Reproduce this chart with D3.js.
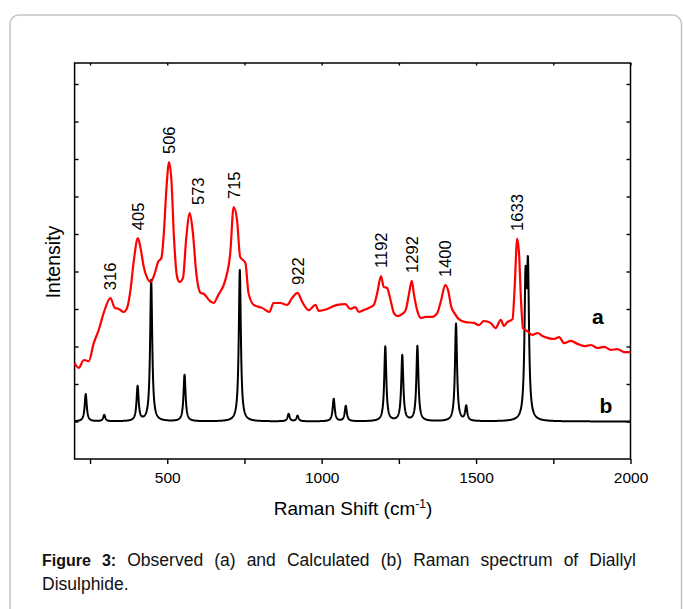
<!DOCTYPE html>
<html>
<head>
<meta charset="utf-8">
<script src="https://cdn.jsdelivr.net/npm/d3@7"></script>
<style>
  body { margin: 0; background: #fff; }
  svg { display: block; }
  text { font-family: "Liberation Sans", Arial, Helvetica, sans-serif; }
</style>
</head>
<body>
<svg id="fig" width="683" height="609"></svg>
<script>
// Observed Raman spectrum (a): shift in cm-1 and intensity (arbitrary units)
const observedShift = [
  200, 213, 230, 246, 262, 278, 294, 316, 330, 343, 359, 370, 381, 392, 405, 413,
  424, 435, 446, 460, 470, 481, 489, 497, 506, 514, 521, 532, 540, 551, 561, 573,
  583, 594, 608, 619, 635, 650, 665, 688, 704, 715, 726, 736, 753, 763, 780, 807,
  831, 844, 866, 888, 904, 922, 937, 958, 980, 990, 1018, 1050, 1077, 1093, 1109, 1120,
  1136, 1158, 1169, 1180, 1192, 1201, 1212, 1223, 1234, 1245, 1261, 1272, 1282, 1292, 1298, 1309,
  1322, 1336, 1358, 1374, 1387, 1400, 1409, 1420, 1430, 1444, 1466, 1493, 1509, 1525, 1547, 1563,
  1580, 1590, 1601, 1618, 1625, 1633, 1639, 1645, 1652, 1666, 1682, 1699, 1715, 1731, 1753, 1769,
  1785, 1807, 1828, 1850, 1872, 1893, 1915, 1936, 1958, 1980, 2000
];
const observedIntensity = [
  2.56, 2.43, 2.64, 2.61, 3.09, 3.44, 3.89, 4.29, 4.03, 4.00, 3.92, 4.03, 4.51, 5.31, 5.89, 5.65,
  5.12, 4.83, 4.72, 4.96, 5.25, 5.36, 6.03, 7.17, 7.92, 7.36, 6.03, 4.85, 4.72, 4.83, 5.84, 6.56,
  6.03, 4.96, 4.43, 4.40, 4.24, 4.16, 4.37, 4.77, 5.49, 6.72, 6.37, 5.39, 5.23, 4.43, 4.11, 4.03,
  3.92, 4.16, 4.16, 4.11, 4.29, 4.43, 4.19, 3.97, 4.11, 3.95, 4.00, 4.11, 4.13, 4.00, 4.05, 3.92,
  3.97, 4.05, 4.11, 4.43, 4.88, 4.59, 4.56, 4.24, 3.89, 3.81, 3.87, 3.97, 4.37, 4.75, 4.43, 3.97,
  3.76, 3.79, 3.79, 3.89, 4.24, 4.64, 4.51, 4.05, 3.89, 3.73, 3.65, 3.63, 3.57, 3.68, 3.63, 3.49,
  3.71, 3.55, 3.65, 3.73, 4.59, 5.87, 5.49, 4.32, 3.49, 3.41, 3.31, 3.36, 3.28, 3.23, 3.20, 3.25,
  3.09, 3.15, 3.07, 3.01, 3.04, 2.96, 2.99, 2.91, 2.93, 2.85, 2.85
];

// Calculated spectrum (b): band positions (cm-1) and heights above its baseline
const calcBandShift  = [236, 296, 404, 448, 556, 735, 893, 922, 1039, 1078, 1206, 1261, 1310, 1435, 1468, 1660, 1668];
const calcBandHeight = [0.73, 0.17, 0.92, 3.77, 1.24, 4.04, 0.20, 0.15, 0.60, 0.41, 1.99, 1.75, 2.00, 2.60, 0.39, 3.38, 3.72];
const calcBaseline = 1.0;
const calcHalfWidth = 4;   // Lorentzian half width at half maximum, cm-1

// Bands annotated on the observed spectrum
const peakLabels = [316, 405, 506, 573, 715, 922, 1192, 1292, 1400, 1633];

// Axis ticks
const xTicks = [250, 500, 750, 1000, 1250, 1500, 1750, 2000];
const xTickLabels = [500, 1000, 1500, 2000];
const yTicks = [1, 2, 3, 4, 5, 6, 7, 8, 9, 10];

const svg = d3.select("#fig");

// Page frame
svg.append("rect")
  .attr("x", 10).attr("y", 15).attr("width", 671.5).attr("height", 640)
  .attr("rx", 9).attr("ry", 9)
  .attr("fill", "none").attr("stroke", "#c4c4c4").attr("stroke-width", 1.5);

const x = d3.scaleLinear().domain([200, 2000]).range([74.6, 630.5]);
const y = d3.scaleLinear().domain([0, 10.56]).range([459, 63]);

// Axes
const gx = svg.append("g").attr("transform", `translate(0,${y(0)})`)
  .call(d3.axisBottom(x).tickValues(xTicks).tickSize(5).tickSizeOuter(0)
    .tickFormat(d => xTickLabels.includes(d) ? d : ""));
gx.selectAll("text").attr("font-size", 15.5).attr("fill", "#000").attr("dy", "1.0em")
  .attr("font-family", "Liberation Sans, Arial, sans-serif");

const gt = svg.append("g").attr("transform", `translate(0,${y.range()[1]})`)
  .call(d3.axisTop(x).tickValues(xTicks).tickSize(-2.5).tickSizeOuter(0).tickFormat(""));

const gl = svg.append("g").attr("transform", `translate(${x.range()[0]},0)`)
  .call(d3.axisLeft(y).tickValues(yTicks).tickSize(-4).tickSizeOuter(0).tickFormat(""));
const gr = svg.append("g").attr("transform", `translate(${x.range()[1]},0)`)
  .call(d3.axisRight(y).tickValues(yTicks).tickSize(-4).tickSizeOuter(0).tickFormat(""));

[gx, gt, gl, gr].forEach(g => {
  g.select(".domain").remove();
  g.selectAll(".tick line").attr("stroke", "#000").attr("stroke-width", 1.4);
});

// Plot frame
svg.append("rect")
  .attr("x", x.range()[0]).attr("y", y.range()[1])
  .attr("width", x.range()[1] - x.range()[0]).attr("height", y.range()[0] - y.range()[1])
  .attr("fill", "none").attr("stroke", "#000").attr("stroke-width", 1.5);

// Calculated spectrum: Lorentzian bands on a flat baseline
const calcShift = d3.range(200, 2000.5, 0.5);
const calcPoints = calcShift.map(s => {
  let v = calcBaseline;
  calcBandShift.forEach((c, i) => {
    const t = (s - c) / calcHalfWidth;
    v += calcBandHeight[i] / (1 + t * t);
  });
  return [s, v];
});

svg.append("path")
  .datum(calcPoints)
  .attr("fill", "none").attr("stroke", "#000").attr("stroke-width", 2)
  .attr("stroke-linejoin", "round")
  .attr("d", d3.line().x(d => x(d[0])).y(d => y(d[1])));

// Observed spectrum
const obsPoints = observedShift.map((s, i) => [s, observedIntensity[i]]);
svg.append("path")
  .datum(obsPoints)
  .attr("fill", "none").attr("stroke", "#ff0000").attr("stroke-width", 2.2)
  .attr("stroke-linejoin", "round")
  .attr("d", d3.line().curve(d3.curveMonotoneX).x(d => x(d[0])).y(d => y(d[1])));

// Band labels above the observed peaks
peakLabels.forEach(p => {
  const i = observedShift.indexOf(p);
  const px = x(p) + (p === 573 ? 8 : 0);
  const py = y(observedIntensity[i]) - 8;
  svg.append("text")
    .attr("transform", `translate(${px},${py}) rotate(-90)`)
    .attr("dy", "0.36em")
    .attr("font-size", 16.5).attr("fill", "#000")
    .text(p);
});

// Trace labels
svg.append("text").attr("x", x(1894)).attr("y", y(3.6))
  .attr("text-anchor", "middle").attr("font-size", 21).attr("font-weight", "bold").text("a");
svg.append("text").attr("x", x(1920)).attr("y", y(1.23))
  .attr("text-anchor", "middle").attr("font-size", 21).attr("font-weight", "bold").text("b");

// Axis titles
const xt = svg.append("text").attr("x", 353).attr("y", 515)
  .attr("text-anchor", "middle").attr("font-size", 19).attr("fill", "#000");
xt.append("tspan").text("Raman Shift (cm");
xt.append("tspan").attr("font-size", 12).attr("dy", -7).text("-1");
xt.append("tspan").attr("dy", 7).text(")");

svg.append("text")
  .attr("transform", "translate(60,262) rotate(-90)")
  .attr("text-anchor", "middle").attr("font-size", 19.5).attr("fill", "#000")
  .text("Intensity");

// Caption, first line justified between the margins
const capLeft = 42, capRight = 636;
const line1 = [
  { t: "Figure", b: true }, { t: "3:", b: true }, { t: "Observed" }, { t: "(a)" }, { t: "and" },
  { t: "Calculated" }, { t: "(b)" }, { t: "Raman" }, { t: "spectrum" }, { t: "of" }, { t: "Diallyl" }
];
const capNodes = line1.map(w => svg.append("text")
  .attr("y", 566).attr("font-size", w.b ? 16 : 17.5)
  .attr("font-weight", w.b ? "bold" : "normal").attr("fill", "#111").text(w.t));
const widths = capNodes.map(n => n.node().getComputedTextLength());
const gap = (capRight - capLeft - d3.sum(widths)) / (line1.length - 1);
let cx = capLeft;
capNodes.forEach((n, i) => { n.attr("x", cx); cx += widths[i] + gap; });

svg.append("text").attr("x", capLeft).attr("y", 590).attr("font-size", 17.5)
  .attr("fill", "#111").text("Disulphide.");
</script>
</body>
</html>
